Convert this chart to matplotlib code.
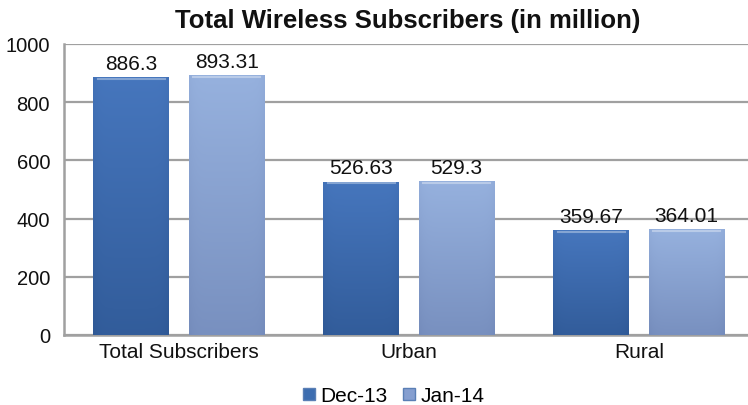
import numpy as np
import matplotlib.pyplot as plt
from matplotlib.colors import LinearSegmentedColormap

plt.rcParams['font.family'] = ['Liberation Sans', 'DejaVu Sans']

categories = ['Total Subscribers', 'Urban', 'Rural']
series_names = ['Dec-13', 'Jan-14']
dec13 = [886.3, 526.63, 359.67]
jan14 = [893.31, 529.3, 364.01]
value_labels = [['886.3', '526.63', '359.67'], ['893.31', '529.3', '364.01']]
yticks = [0, 200, 400, 600, 800, 1000]

# (top colour, bottom colour) for the shaded bars
shades = [('#4676bd', '#2d5692'), ('#96b1de', '#7188b8')]
legend_colors = ['#3d6db0', '#869fd0']


def shaded_bar(ax, bar, top, bottom):
    cmap = LinearSegmentedColormap.from_list('shade', [bottom, top])
    x0, y0 = bar.get_x(), bar.get_y()
    w, h = bar.get_width(), bar.get_height()
    # vertical gradient plus a slight darkening near the sides
    gy = np.linspace(0, 1, 256)[:, None]
    gx = np.linspace(-1, 1, 64)[None, :]
    grad = 0.2 + 0.8 * gy - 0.12 * gx ** 8
    img = ax.imshow(grad, cmap=cmap, vmin=0, vmax=1, aspect='auto',
                    origin='lower', extent=[x0, x0 + w, y0, y0 + h],
                    interpolation='bilinear', zorder=3)
    img.set_clip_path(bar)
    # bevel highlight along the top edge
    ax.plot([x0 + w * 0.06, x0 + w * 0.94], [y0 + h - 6, y0 + h - 6],
            color='white', alpha=0.35, lw=1.5, zorder=4)


fig = plt.figure(figsize=(7.48, 4.06), dpi=100)
ax = fig.add_axes([64 / 748, 1 - 336 / 406, 690 / 748, 291 / 406])

x = np.arange(len(categories))
width = 0.33
offset = 0.207

for i, (vals, name) in enumerate(zip([dec13, jan14], series_names)):
    pos = x + (offset if i else -offset)
    bars = ax.bar(pos, vals, width, color=shades[i][0], label=name,
                  zorder=2, edgecolor='none')
    for b, lab in zip(bars, value_labels[i]):
        shaded_bar(ax, b, *shades[i])
        ax.text(b.get_x() + b.get_width() / 2, b.get_height() + 15, lab,
                ha='center', va='bottom', fontsize=15, color='#111111',
                zorder=5)

ax.set_xlim(-0.5, 2.5)
ax.set_ylim(0, 1000)
ax.set_yticks(yticks)
ax.set_xticks(x)
ax.set_xticklabels(categories)
ax.tick_params(axis='both', length=0, colors='#111111')
ax.tick_params(axis='y', pad=10, labelsize=14.5)
ax.tick_params(axis='x', pad=5, labelsize=15)

ax.yaxis.grid(True, color='#a0a0a0', lw=1.6, zorder=1)
ax.set_axisbelow(True)
for side in ['top', 'right']:
    ax.spines[side].set_visible(False)
for side in ['left', 'bottom']:
    ax.spines[side].set_color('#a0a0a0')
    ax.spines[side].set_linewidth(1.8)

fig.text(0.545, 1 - 21 / 406, 'Total Wireless Subscribers (in million)',
         ha='center', va='center', fontsize=18.5, fontweight='bold',
         color='#111111')

handles = [plt.Line2D([], [], marker='s', ls='none', markersize=8,
                      markerfacecolor=c, markeredgecolor='#5a7fb5')
           for c in legend_colors]
fig.legend(handles, series_names, loc='center', bbox_to_anchor=(392 / 748, 1 - 397 / 406),
           ncol=2, frameon=False, fontsize=15, handletextpad=0.1,
           columnspacing=0.6, handlelength=0.9)

fig.savefig('out.png', dpi=100)
